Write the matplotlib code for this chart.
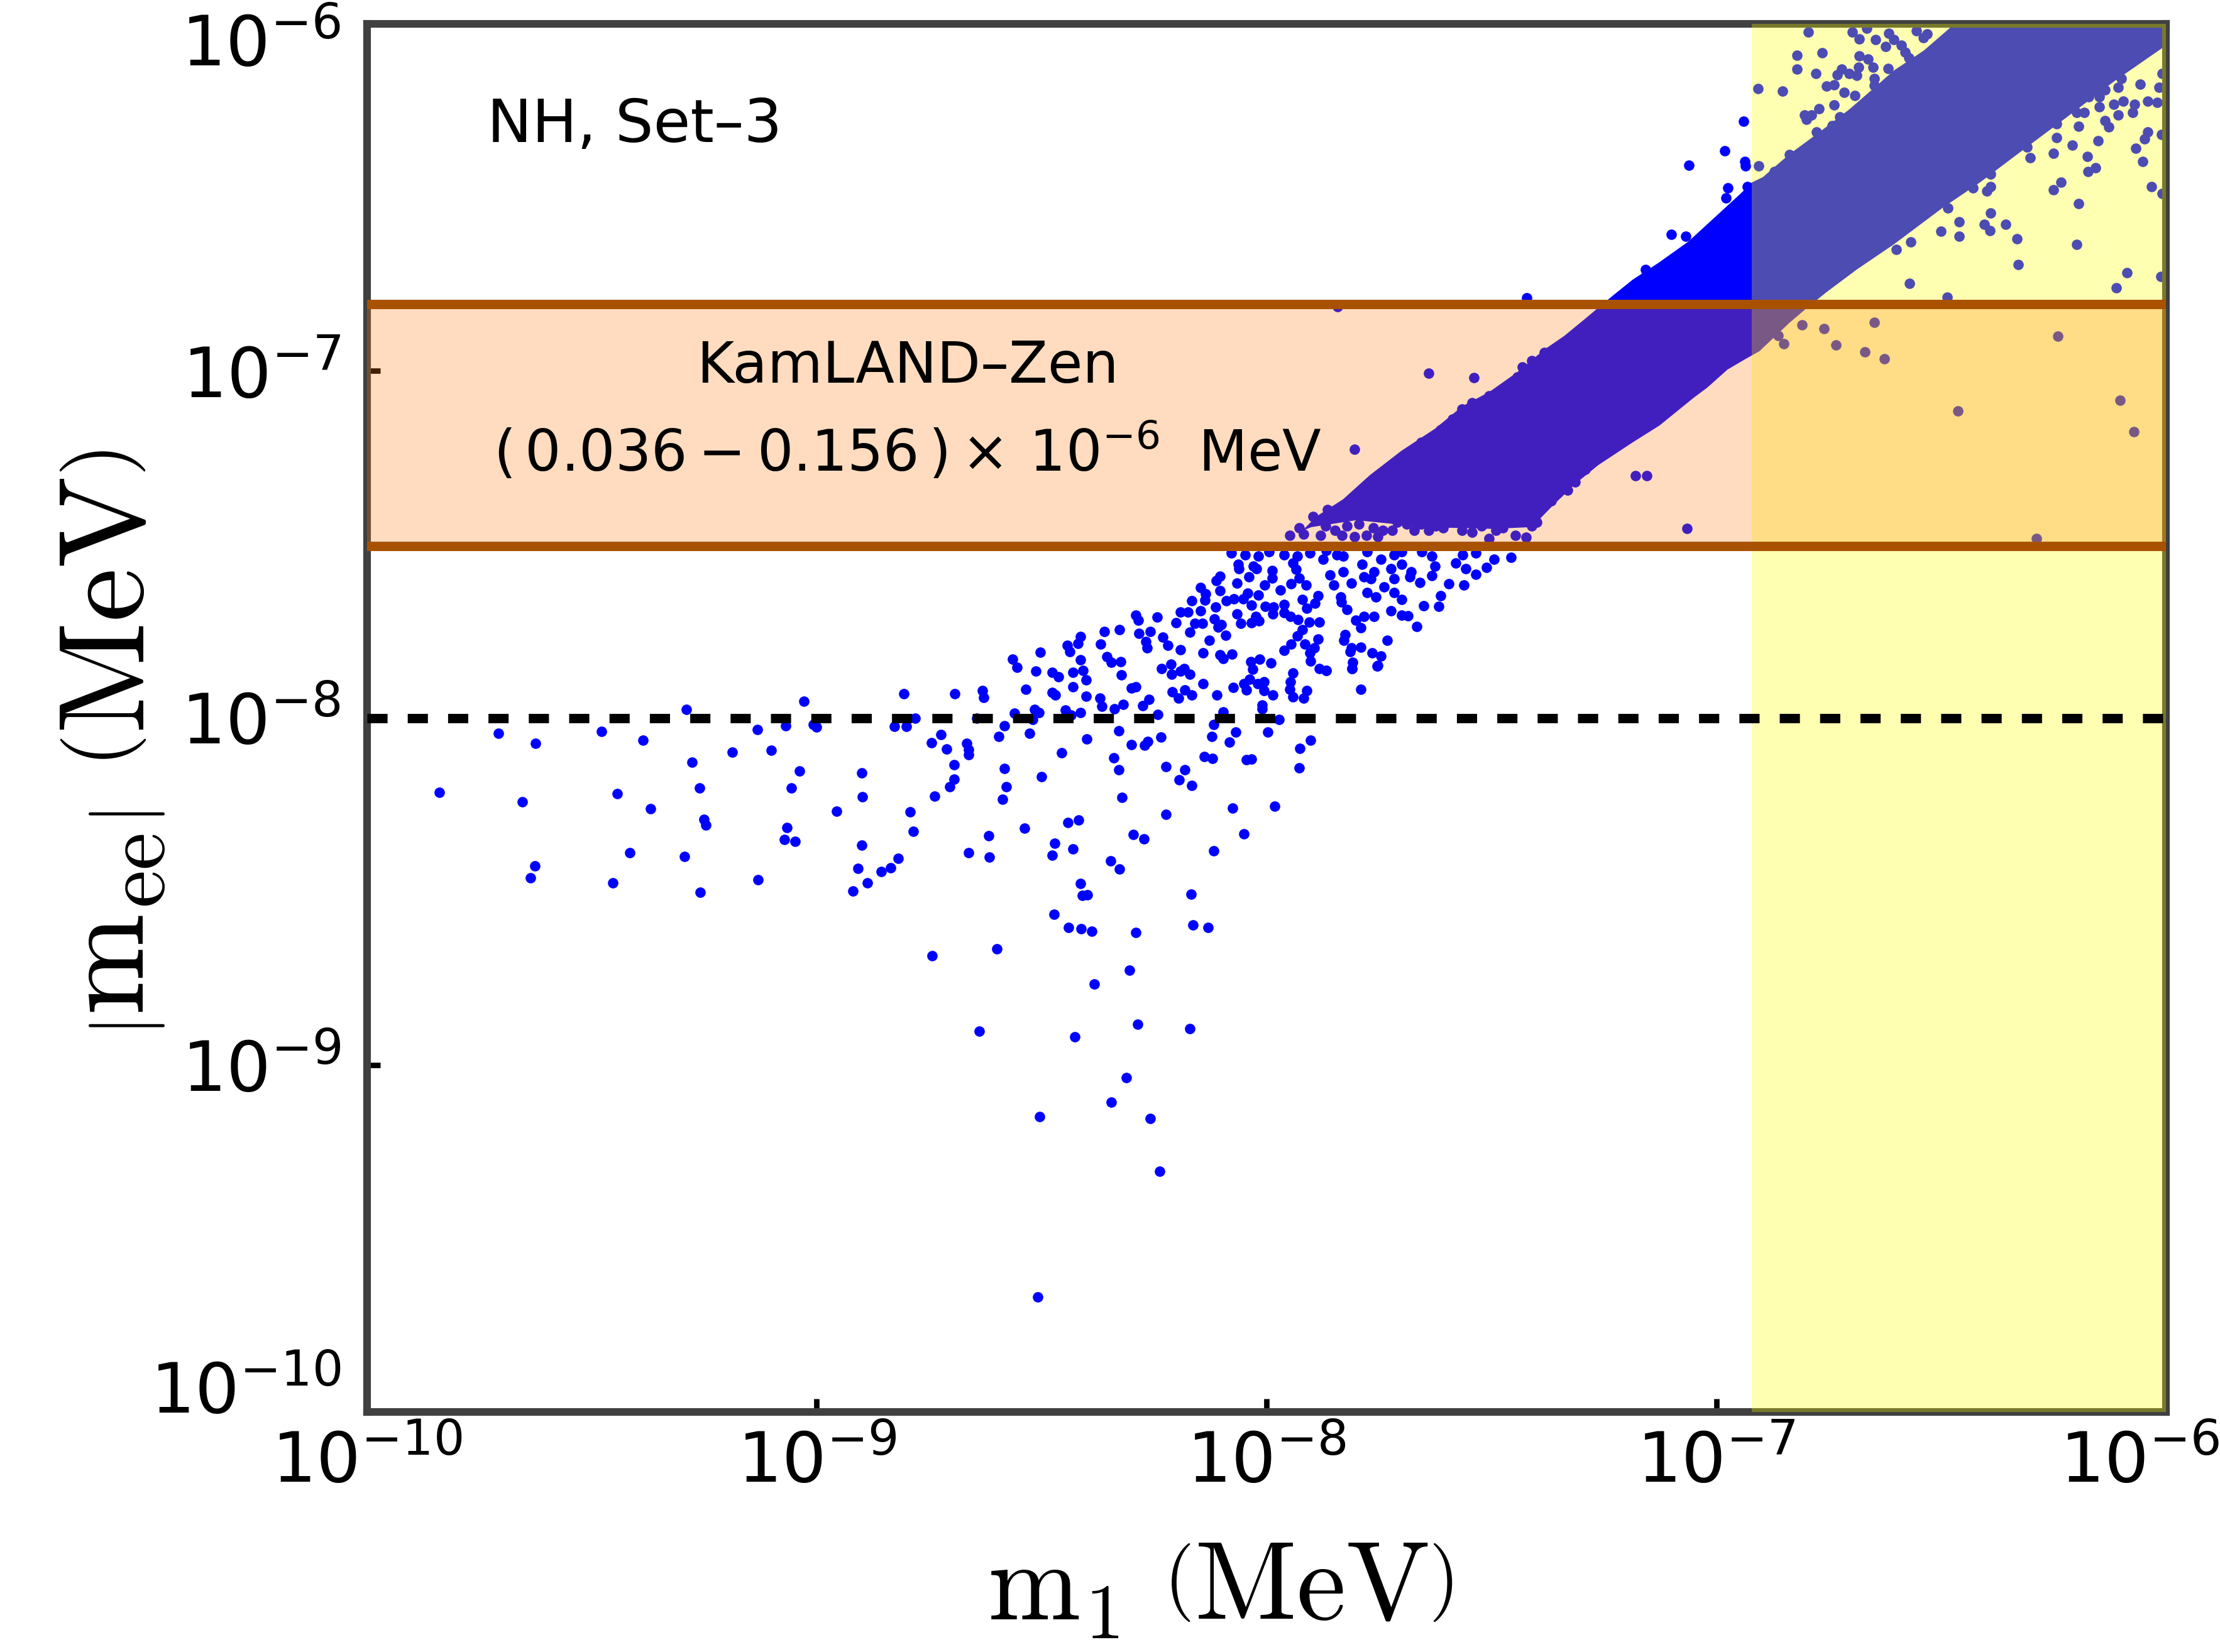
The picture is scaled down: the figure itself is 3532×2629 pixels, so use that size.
import numpy as np
import matplotlib.pyplot as plt
import matplotlib.transforms as mtransforms
from matplotlib.ticker import NullLocator

# all scatter values below are log10 of the values (MeV)

# sparse points, lower left (mostly below the 1e-8 line)
low_m1 = [-9.290, -9.029, -9.708, -9.625, -9.478, -9.386, -9.132, -9.069, -9.000, -9.008,
          -9.188, -9.101, -9.277, -9.038, -8.900, -9.839, -9.654, -9.443, -9.260, -9.057,
          -8.899, -9.369, -9.251, -9.246, -8.956, -9.066, -9.072, -9.048, -8.900, -9.415,
          -9.294, -9.626, -9.636, -9.453, -9.259, -9.130, -8.909, -8.856, -8.888, -8.920,
          -8.836,
          -8.827, -8.801, -8.781, -8.724, -8.745, -8.711, -8.667, -8.663, -8.663, -8.694,
          -8.694, -8.704, -8.738, -8.793, -8.785, -8.819, -8.583, -8.578, -8.587, -8.596,
          -8.583, -8.527, -8.520, -8.644, -8.500, -8.456, -8.538, -8.617, -8.663, -8.616,
          -8.471, -8.477, -8.430, -8.442, -8.418, -8.400, -8.339, -8.329, -8.328, -8.321,
          -8.347, -8.327, -8.413, -8.410, -8.398, -8.472, -8.440, -8.412, -8.388, -8.291,
          -8.164, -8.130, -8.168, -8.296, -8.272, -8.223, -8.224, -8.182, -8.194, -8.166,
          -8.300, -8.271, -8.264, -8.235, -8.121, -8.118, -8.083, -8.068, -8.139, -8.120,
          -8.045, -8.034, -7.997, -7.972, -7.926, -7.902, -7.927, -8.076, -7.982, -8.051,
          -8.118,
          -8.744, -8.599, -8.304, -8.383, -8.639, -8.426, -8.287, -8.171, -8.311, -8.345,
          -8.505, -8.259, -8.237, -8.508]
low_mee = [-7.976, -7.951, -8.045, -8.074, -8.038, -8.065, -8.034, -8.022, -8.027, -8.018,
           -8.098, -8.093, -8.127, -8.152, -8.159, -8.214, -8.241, -8.219, -8.201, -8.201,
           -8.228, -8.261, -8.293, -8.308, -8.268, -8.315, -8.350, -8.355, -8.366, -8.388,
           -8.399, -8.426, -8.460, -8.475, -8.502, -8.466, -8.433, -8.442, -8.475, -8.498,
           -8.431,
           -8.024, -8.025, -8.001, -8.048, -8.071, -8.090, -8.073, -8.092, -8.105, -8.134,
           -8.176, -8.199, -8.225, -8.270, -8.326, -8.404, -8.146, -8.198, -8.235, -8.054,
           -8.022, -8.044, -8.005, -8.001, -8.170, -8.101, -8.317, -8.340, -8.388, -8.401,
           -8.361, -8.396, -8.377, -8.302, -8.295, -8.060, -8.115, -8.149, -8.037, -8.229,
           -8.412, -8.436, -8.477, -8.511, -8.510, -8.565, -8.603, -8.607, -8.614, -8.618,
           -8.597, -8.604, -8.507, -8.335, -8.349, -8.278, -8.141, -8.150, -8.179, -8.195,
           -8.076, -8.079, -8.068, -8.055, -8.053, -8.019, -8.069, -8.041, -8.111, -8.116,
           -8.121, -8.118, -8.040, -8.004, -8.087, -8.064, -8.144, -8.260, -8.254, -8.334,
           -8.383,
           -8.685, -8.666, -8.727, -8.767, -8.902, -8.918, -8.882, -8.895, -9.036, -9.107,
           -9.149, -9.154, -9.306, -9.669]

# points between 1e-8 and the lower KamLAND-Zen limit
mid_m1 = [-8.806, -8.693, -8.631, -8.629, -8.561, -8.535, -8.515, -8.506, -8.565, -8.555,
          -8.513, -8.503, -8.477, -8.462, -8.477, -8.470, -8.447, -8.435, -8.414, -8.430,
          -8.430, -8.414, -8.408, -8.401, -8.419, -8.413, -8.443, -8.437, -8.401, -8.370,
          -8.366, -8.338, -8.319, -8.369, -8.361, -8.327, -8.355, -8.345, -8.324, -8.323,
          -8.300, -8.291, -8.276, -8.261, -8.242, -8.290, -8.285, -8.243, -8.284, -8.269,
          -8.265, -8.259, -8.231, -8.219, -8.191, -8.233, -8.212, -8.211, -8.192, -8.171,
          -8.183, -8.209, -8.196, -8.181, -8.166, -8.141, -8.110, -8.097, -8.141, -8.127,
          -8.104, -8.096, -8.077, -8.171, -8.201, -8.191, -8.174, -8.167, -8.147, -8.137,
          -8.135, -8.147, -8.160, -8.143, -8.116, -8.108, -8.100, -8.091, -8.113, -8.103,
          -8.112, -8.103, -8.066, -8.039, -8.066, -8.057, -8.034, -8.017, -8.024, -8.089,
          -8.072, -8.052, -8.042, -8.034, -8.018, -8.003, -7.984, -7.986, -7.961, -7.961,
          -7.947, -7.930, -7.921, -7.911, -7.893, -7.885, -7.905, -7.883, -8.004, -7.988,
          -7.969, -7.988, -7.946, -7.935, -7.928, -7.912, -7.859, -7.851, -7.835, -7.834,
          -7.821, -7.829, -7.812, -7.931, -7.920, -7.885, -7.894, -7.915, -7.945, -7.961,
          -7.902, -7.882, -7.867, -7.904, -8.035, -8.015, -7.990, -8.031, -8.038, -8.051,
          -8.074, -8.045, -8.019, -8.005, -8.005, -7.986, -7.942, -7.947, -7.948, -7.942,
          -7.918, -7.911, -8.010, -8.010, -7.825, -7.828, -7.812, -7.814, -7.808, -7.810,
          -7.802, -8.022, -8.062,
          -8.078, -8.048, -8.018, -7.995, -7.961, -7.931, -7.904, -7.867, -7.844, -7.829,
          -7.776, -7.746, -7.716, -7.700, -7.655, -7.632, -7.564, -7.534, -7.494, -7.456,
          -8.063, -8.029, -7.942, -7.874, -7.787, -7.700, -7.579, -7.761, -7.723, -7.678,
          -7.625, -7.557, -7.534, -7.511, -7.784, -7.768, -7.738, -7.716, -7.681, -7.659,
          -7.632, -7.595, -7.561, -7.776, -7.757, -7.716, -7.700, -7.651, -7.617, -7.613,
          -7.784, -7.761, -7.723, -7.700, -7.685, -7.666, -7.791, -7.791, -7.731, -7.765,
          -7.746, -7.753, -7.791, -7.867, -7.810, -7.754]
mid_mee = [-7.930, -7.930, -7.922, -7.941, -7.987, -7.917, -7.975, -7.985, -7.831, -7.855,
           -7.865, -7.810, -7.869, -7.882, -7.926, -7.933, -7.978, -7.992, -7.985, -7.911,
           -7.869, -7.832, -7.863, -7.891, -7.786, -7.766, -7.791, -7.809, -7.937, -7.943,
           -7.966, -7.974, -7.961, -7.787, -7.750, -7.746, -7.824, -7.839, -7.837, -7.875,
           -7.914, -7.911, -7.965, -7.946, -7.990, -7.704, -7.719, -7.709, -7.757, -7.779,
           -7.798, -7.750, -7.767, -7.791, -7.803, -7.857, -7.845, -7.874, -7.865, -7.874,
           -7.858, -7.924, -7.942, -7.920, -7.934, -7.902, -7.934, -7.982, -7.812, -7.777,
           -7.817, -7.829, -7.816, -7.753, -7.725, -7.694, -7.694, -7.662, -7.624, -7.661,
           -7.642, -7.692, -7.728, -7.728, -7.714, -7.739, -7.731, -7.761, -7.681, -7.633,
           -7.604, -7.591, -7.611, -7.593, -7.701, -7.728, -7.726, -7.721, -7.708, -7.662,
           -7.656, -7.656, -7.640, -7.674, -7.645, -7.678, -7.680, -7.701, -7.673, -7.697,
           -7.708, -7.716, -7.659, -7.683, -7.669, -7.647, -7.723, -7.723, -7.617, -7.597,
           -7.631, -7.576, -7.614, -7.572, -7.597, -7.616, -7.588, -7.617, -7.652, -7.666,
           -7.687, -7.579, -7.611, -7.763, -7.746, -7.773, -7.798, -7.787, -7.787, -7.806,
           -7.836, -7.857, -7.864, -7.812, -7.837, -7.830, -7.841, -7.860, -7.888, -7.902,
           -7.912, -7.919, -7.902, -7.895, -7.922, -7.934, -7.870, -7.895, -7.918, -7.940,
           -7.943, -7.922, -7.963, -7.974, -7.760, -7.777, -7.798, -7.808, -7.839, -7.858,
           -7.718, -7.569, -7.569,
           -7.525, -7.530, -7.534, -7.521, -7.530, -7.534, -7.525, -7.517, -7.530, -7.534,
           -7.521, -7.542, -7.530, -7.521, -7.521, -7.534, -7.530, -7.525, -7.542, -7.538,
           -7.558, -7.562, -7.554, -7.542, -7.558, -7.558, -7.554, -7.578, -7.570, -7.578,
           -7.562, -7.570, -7.586, -7.566, -7.594, -7.598, -7.623, -7.598, -7.594, -7.610,
           -7.590, -7.614, -7.617, -7.639, -7.651, -7.639, -7.659, -7.677, -7.679, -7.647,
           -7.707, -7.707, -7.691, -7.703, -7.706, -7.736, -7.740, -7.797, -7.776, -7.813,
           -7.821, -7.849, -7.918, -7.864, -7.857, -7.851]

# loose points inside the KamLAND-Zen band, left part of the strip
band_m1 = [-7.949, -7.928, -7.917, -7.896, -7.880, -7.869, -7.864, -7.848, -7.832, -7.821,
           -7.805, -7.794, -7.778, -7.762, -7.752, -7.741, -7.720, -7.709, -7.688, -7.672,
           -7.656, -7.640, -7.624, -7.608, -7.597, -7.573, -7.565, -7.543, -7.522, -7.506,
           -7.490, -7.474, -7.447, -7.423, -7.410, -7.399,
           -7.821, -7.800, -7.778, -7.762, -7.746, -7.773, -7.746, -7.725, -7.709, -7.685,
           -7.666, -7.650, -7.629, -7.613, -7.592, -7.581, -7.565, -7.554, -7.533, -7.511,
           -7.501, -7.479, -7.458, -7.453, -7.431, -7.410, -7.394, -7.367, -7.351, -7.330,
           -7.314, -7.378,
           -7.709, -7.688, -7.677, -7.656, -7.640, -7.624, -7.608, -7.597, -7.581, -7.565,
           -7.554, -7.538, -7.522, -7.506, -7.490, -7.479, -7.463, -7.442, -7.426, -7.415,
           -7.399, -7.383, -7.362, -7.346, -7.330, -7.314, -7.292, -7.271,
           -7.656, -7.629, -7.613, -7.592, -7.576, -7.560, -7.538, -7.517, -7.495, -7.479,
           -7.458, -7.437, -7.421, -7.405, -7.389, -7.373, -7.351, -7.335, -7.314, -7.292,
           -7.271,
           -7.586, -7.565, -7.543, -7.522, -7.506, -7.485, -7.463, -7.447, -7.426, -7.410,
           -7.389, -7.373, -7.351, -7.335, -7.314, -7.292, -7.271, -7.442,
           -7.431, -7.410, -7.383, -7.357, -7.335, -7.314, -7.292, -7.271, -7.261,
           -7.639, -7.539, -7.805, -7.179, -7.154, -7.065, -7.842, -7.421]
band_mee = [-7.474, -7.453, -7.471, -7.420, -7.474, -7.447, -7.399, -7.459, -7.474, -7.447,
            -7.477, -7.441, -7.474, -7.453, -7.477, -7.459, -7.459, -7.435, -7.441, -7.459,
            -7.441, -7.459, -7.447, -7.453, -7.435, -7.420, -7.459, -7.465, -7.447, -7.483,
            -7.459, -7.453, -7.474, -7.480, -7.447, -7.435,
            -7.387, -7.368, -7.350, -7.326, -7.314, -7.387, -7.399, -7.399, -7.362, -7.371,
            -7.344, -7.387, -7.390, -7.344, -7.326, -7.362, -7.350, -7.387, -7.387, -7.368,
            -7.411, -7.399, -7.405, -7.374, -7.350, -7.387, -7.362, -7.374, -7.350, -7.344,
            -7.320, -7.338,
            -7.272, -7.254, -7.290, -7.296, -7.266, -7.302, -7.290, -7.326, -7.278, -7.254,
            -7.314, -7.290, -7.272, -7.314, -7.290, -7.266, -7.302, -7.272, -7.314, -7.254,
            -7.284, -7.260, -7.296, -7.266, -7.302, -7.272, -7.284, -7.254,
            -7.205, -7.193, -7.169, -7.211, -7.181, -7.157, -7.199, -7.181, -7.217, -7.193,
            -7.217, -7.169, -7.205, -7.181, -7.223, -7.193, -7.211, -7.181, -7.205, -7.175,
            -7.187,
            -7.139, -7.109, -7.091, -7.127, -7.072, -7.109, -7.048, -7.085, -7.127, -7.072,
            -7.109, -7.048, -7.097, -7.072, -7.121, -7.085, -7.109, -7.018,
            -6.988, -6.970, -6.946, -6.988, -6.964, -7.012, -6.952, -6.988, -6.934,
            -7.006, -7.020, -7.226, -7.301, -7.301, -7.454, -6.815, -6.789]

# scattered points around the dense strip at large m1 (mostly inside the yellow region)
top_m1 = [-6.796, -6.698, -6.682, -6.665, -6.646, -6.617, -6.624, -6.605, -6.589, -6.580,
          -6.555, -6.539, -6.531, -6.572, -6.820, -6.765, -6.820, -6.779, -6.907, -6.852,
          -6.755, -6.738, -6.731, -6.721, -6.705, -6.688, -6.684, -6.682, -6.663, -6.651,
          -6.648, -6.648, -6.618, -6.716, -6.692, -6.738, -6.772, -6.804, -6.800, -6.788,
          -6.725, -6.742, -6.777, -6.838, -6.906, -6.871,
          -6.309, -6.302, -6.250, -6.243, -6.209, -6.195, -6.175, -6.151, -6.174, -6.157,
          -6.234, -6.250, -6.194, -6.199, -6.331, -6.328, -6.356, -6.390, -6.390, -6.398,
          -6.390, -6.404, -6.391, -6.460, -6.460, -6.500, -6.485, -6.429, -6.567, -6.600,
          -6.571, -6.487, -6.087, -6.110, -6.011, -6.033, -6.008, -6.052, -6.068, -6.048,
          -6.041, -6.010, -6.128, -6.136, -6.107, -6.074, -6.070, -6.095, -6.116, -6.149,
          -6.149, -6.172, -6.136, -6.099, -6.107, -6.058, -6.041, -6.020, -6.016, -6.008,
          -6.182, -6.199, -6.243,
          -6.809, -6.760, -6.734, -6.648, -6.670, -6.626, -6.850, -6.863, -6.240, -6.102,
          -6.463, -6.072, -6.288,
          -6.939, -6.981, -7.061, -6.937, -6.935, -6.974, -6.979, -6.931, -7.100, -7.068,
          -7.157]
top_mee = [-6.023, -6.024, -6.043, -6.012, -6.045, -6.027, -6.065, -6.045, -6.061, -6.081,
           -6.020, -6.040, -6.028, -6.097, -6.091, -6.083, -6.130, -6.142, -6.187, -6.193,
           -6.179, -6.176, -6.146, -6.130, -6.143, -6.148, -6.125, -6.093, -6.101, -6.125,
           -6.158, -6.178, -6.128, -6.198, -6.206, -6.233, -6.245, -6.263, -6.275, -6.263,
           -6.267, -6.293, -6.311, -6.376, -6.409, -6.425,
           -6.354, -6.386, -6.372, -6.328, -6.350, -6.295, -6.381, -6.337, -6.425, -6.415,
           -6.457, -6.477, -6.518, -6.635, -6.619, -6.693, -6.577, -6.433, -6.469, -6.481,
           -6.544, -6.578, -6.595, -6.570, -6.612, -6.598, -6.530, -6.473, -6.629, -6.650,
           -6.747, -6.787, -6.716, -6.760, -6.728, -6.469, -6.489, -6.396, -6.358, -6.332,
           -6.311, -6.318, -6.297, -6.279, -6.263, -6.255, -6.231, -6.223, -6.231, -6.239,
           -6.210, -6.210, -6.190, -6.158, -6.182, -6.174, -6.223, -6.227, -6.182, -6.142,
           -6.255, -6.255, -6.287,
           -6.867, -6.878, -6.925, -6.860, -6.945, -6.965, -6.922, -6.898, -6.900, -7.084,
           -7.116, -7.175, -7.483,
           -6.281, -6.366, -6.407, -6.397, -6.409, -6.473, -6.502, -6.468, -6.607, -6.612,
           -6.708]

# outline of the region where the points merge into one solid strip
core_m1 = [-7.92, -7.89, -7.83, -7.77, -7.70, -7.625, -7.564, -7.504, -7.443, -7.383,
           -7.338, -7.292, -7.232, -7.186, -7.128, -7.062, -7.004, -6.946, -6.921, -6.896,
           -6.838, -6.771, -6.705, -6.647, -6.605, -6.539, -6.481, -6.47, -5.98,
           -5.98, -6.008, -6.116, -6.223, -6.323, -6.414, -6.497, -6.605, -6.688, -6.755,
           -6.80, -6.838, -6.904, -6.937, -6.975, -7.020, -7.050, -7.126, -7.186, -7.262,
           -7.315, -7.365, -7.41, -7.50, -7.65, -7.80, -7.90]
core_mee = [-7.46, -7.42, -7.37, -7.30, -7.23, -7.166, -7.101, -7.060, -7.004, -6.939,
            -6.899, -6.850, -6.785, -6.737, -6.688, -6.627, -6.558, -6.489, -6.457, -6.441,
            -6.376, -6.312, -6.247, -6.182, -6.134, -6.077, -6.012, -5.98, -5.98,
            -6.06, -6.069, -6.166, -6.271, -6.368, -6.457, -6.530, -6.635, -6.708, -6.773,
            -6.82, -6.862, -6.943, -6.967, -6.996, -7.048, -7.077, -7.157, -7.206, -7.271,
            -7.327, -7.39, -7.45, -7.455, -7.45, -7.43, -7.45]

kamland = [3.13e-8, 1.56e-7]   # band as drawn
future = 1e-8                  # dashed line
cosmo_m1 = [1.2e-7, 1e-6]      # yellow region
decades = [1e-10, 1e-9, 1e-8, 1e-7, 1e-6]

fig = plt.figure(figsize=(14.128, 10.516), dpi=250)
ax = fig.add_axes([0.1653, 0.1453, 0.8104, 0.8402])
ax.set_xscale('log')
ax.set_yscale('log')

blue = '#0000ff'
ax.fill(10**np.array(core_m1), 10**np.array(core_mee), color=blue, lw=0, zorder=2)
for xs, ys in [(low_m1, low_mee), (mid_m1, mid_mee), (band_m1, band_mee), (top_m1, top_mee)]:
    ax.plot(10**np.array(xs), 10**np.array(ys), 'o', color=blue, ms=4.8, mec='none', zorder=2)

ax.axvspan(cosmo_m1[0], cosmo_m1[1], color=(1, 1, 0), alpha=0.3, lw=0, zorder=3)
ax.axhspan(kamland[0], kamland[1], color='#ff7b08', alpha=0.26, lw=0, zorder=4)
for v in kamland:
    ax.axhline(v, color='#a85200', lw=4.3, zorder=5)
ax.axhline(future, color='black', lw=4.3, dashes=(2.15, 2.15), zorder=5)

ax.set_xlim(1e-10, 1e-6)
ax.set_ylim(1e-10, 1e-6)
ax.set_xticks(decades)
ax.set_yticks(decades)

ax.text(0.0667, 0.915, 'NH, Set–3', transform=ax.transAxes, fontsize=27.5, va='baseline', zorder=6)
ax.text(0.3005, 0.7415, 'KamLAND–Zen', transform=ax.transAxes, fontsize=26,
        ha='center', va='baseline', zorder=6)
ax.text(0.3005, 0.6777, r'$(\,0.036-0.156\,)\times\,10^{-6}$  MeV', transform=ax.transAxes,
        fontsize=26, ha='center', va='baseline', zorder=6)

ax.set_xlabel(r'$\mathrm{m_1}\ \left(\mathrm{MeV}\right)$', fontsize=51, math_fontfamily='cm')
ax.set_ylabel(r'$\left|\mathrm{m_{ee}}\right|\ \left(\mathrm{MeV}\right)$', fontsize=56,
              math_fontfamily='cm')
ax.xaxis.set_label_coords(0.4745, -0.089)
ax.yaxis.set_label_coords(-0.11, 0.482)

ax.xaxis.set_minor_locator(NullLocator())
ax.yaxis.set_minor_locator(NullLocator())
ax.tick_params(which='major', direction='in', length=6, width=2.5, labelsize=32,
               top=False, right=False)
ax.tick_params(axis='x', pad=8)
ax.tick_params(axis='y', pad=12)
for s in ax.spines.values():
    s.set_linewidth(3.5)
    s.set_color('#404040')

# end labels sit a little inside, as in the original
def nudge(label, dx, dy):
    off = mtransforms.ScaledTranslation(dx / 250, dy / 250, fig.dpi_scale_trans)
    label.set_transform(label.get_transform() + off)

nudge(ax.get_xticklabels()[-1], -42, 0)
nudge(ax.get_yticklabels()[0], 0, 40)
nudge(ax.get_yticklabels()[-1], 0, -25)

fig.savefig('out.png', dpi=250)
